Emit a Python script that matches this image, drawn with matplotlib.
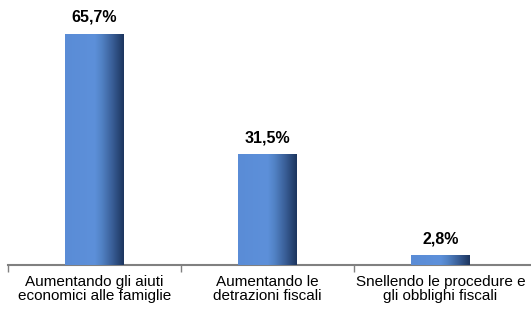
import numpy as np
import matplotlib.pyplot as plt
from matplotlib.colors import LinearSegmentedColormap

categories = ["Aumentando gli aiuti\neconomici alle famiglie",
              "Aumentando le\ndetrazioni fiscali",
              "Snellendo le procedure e\ngli obblighi fiscali"]
values = [65.7, 31.5, 2.8]
labels = ["65,7%", "31,5%", "2,8%"]

plt.rcParams['font.family'] = ['Liberation Sans', 'DejaVu Sans']

fig = plt.figure(figsize=(5.31, 3.09), dpi=100)
ax = fig.add_axes([0.0151, 0.1424, 0.984, 0.819])

x = np.arange(len(categories))
bars = ax.bar(x, values, width=0.34, color='#5a8bd6', zorder=2)

# horizontal gradient: flat blue, then darkening to navy on the right
cmap = LinearSegmentedColormap.from_list(
    'bar', [(0, '#5a8cd6'), (0.5, '#5d90da'), (0.62, '#5283c6'),
            (0.8, '#3a5f98'), (1, '#1c355e')])
grad = np.linspace(0, 1, 256).reshape(1, -1)
for b in bars:
    x0, y0 = b.get_x(), b.get_y()
    im = ax.imshow(grad, cmap=cmap, aspect='auto', zorder=3,
                   extent=(x0, x0 + b.get_width(), y0, y0 + b.get_height()))
    im.set_clip_path(b)

for xi, v, lab in zip(x, values, labels):
    ax.text(xi, v + 2.6, lab, ha='center', va='bottom', fontsize=11.5,
            fontweight='bold')

ax.set_xlim(-0.5, 2.52)
ax.set_ylim(0, 72)
for s in ['top', 'right', 'left']:
    ax.spines[s].set_visible(False)
ax.spines['bottom'].set_color('#808080')
ax.spines['bottom'].set_linewidth(1.5)
ax.set_yticks([])
ax.set_xticks([-0.5, 0.5, 1.5])
ax.set_xticklabels([])
ax.set_xticks(x, minor=True)
ax.set_xticklabels(categories, minor=True, fontsize=11, linespacing=1.0)
ax.tick_params(axis='x', which='major', length=5, color='#808080', width=1)
ax.tick_params(axis='x', which='minor', length=0, pad=7)

fig.savefig('out.png', dpi=100)
